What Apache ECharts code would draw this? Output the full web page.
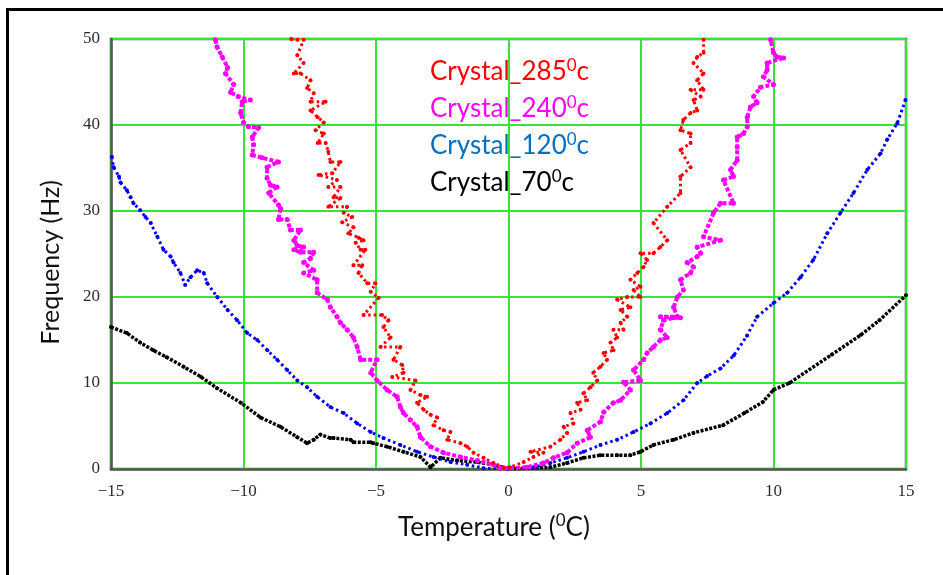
<!DOCTYPE html>
<html>
<head>
<meta charset="utf-8">
<script src="https://cdn.jsdelivr.net/npm/echarts@6/dist/echarts.min.js"></script>
<style>html,body{margin:0;padding:0;background:#fff}#c{width:943px;height:575px}</style>
</head>
<body>
<div id="c"></div>
<script>
// ---- data ----
const xTicks = [-15, -10, -5, 0, 5, 10, 15];
const yTicks = [0, 10, 20, 30, 40, 50];
const seriesNames = ['Crystal_285', 'Crystal_240', 'Crystal_120', 'Crystal_70'];
const legendDeg = ['285', '240', '120', '70'];

const crystal285 = [
  [-8.2,50],[-7.97,49.9],[-7.73,49.9],[-7.97,48.1],[-7.73,47.2],[-8.1,46],[-7.85,46],[-7.47,45.2],[-7.6,44.3],
  [-7.35,43.7],[-7.47,42.7],[-6.9,42.7],[-7.47,41.7],[-7.2,40.9],[-6.97,40.3],[-7.28,39.4],[-6.97,39],[-7.2,37.9],
  [-6.9,37.9],[-6.8,36.9],[-6.72,35.7],[-6.34,35.7],[-7.17,34.2],[-6.65,34.4],[-6.47,33.6],[-6.8,32.8],[-6.34,32.8],
  [-6.6,31.6],[-6.34,31.5],[-6.8,30.5],[-6.09,30.5],[-6.22,29.8],[-5.9,29.3],[-6.28,28.7],[-5.85,28.1],[-6.04,27.4],
  [-5.66,26.9],[-5.47,26.6],[-5.77,26.3],[-5.58,25.5],[-5.4,25.5],[-5.85,23.7],[-5.52,23.7],[-5.66,22.8],[-5.33,21.6],
  [-5.02,21.6],[-5.2,20.6],[-4.9,19.9],[-5.47,17.9],[-4.77,17.9],[-4.53,17.3],[-4.72,16.5],[-4.45,15.3],[-4.83,14.2],
  [-4.08,14.2],[-4.34,12.7],[-4.01,12.1],[-4.39,10.7],[-3.96,11.2],[-3.51,10.3],[-3.7,9.2],[-3.32,8.6],[-3.07,8.4],
  [-3.45,7.7],[-3.2,6.9],[-2.94,6.3],[-2.69,6],[-2.83,5.1],[-2.45,4.5],[-2.19,4.3],[-2.31,3.4],[-1.81,3],[-1.56,2.6],
  [-1.32,1.9],[-0.94,1.3],[-0.57,0.7],[-0.19,0.2],
  [0.05,0.2],[0.57,0.8],[0.94,1.4],[0.83,2],[1.32,1.9],[1.58,2.6],[1.96,3.4],[2.21,4.2],[2.08,4.9],[2.45,5.3],
  [2.34,6.5],[2.72,6.9],[2.59,7.7],[2.97,8],[2.83,8.8],[3.09,9.5],[3.35,10.3],[3.2,11.2],[3.47,11.9],[3.72,12.7],
  [3.59,13.5],[3.96,13.8],[3.85,14.7],[4.1,15.3],[3.96,16.2],[4.34,16.2],[4.23,17],[4.48,17.7],[4.23,18.5],[4.6,18.8],
  [4.1,19.7],[4.48,20],[4.98,20],[4.72,20.8],[4.98,21.2],[4.6,22],[4.86,22.8],[5.1,23.5],[5.23,24.3],[4.98,25.1],
  [5.47,25.1],[5.73,25.8],[5.99,26.6],[5.47,28.6],[5.99,30.5],[6.49,32.1],[6.49,34],[6.87,35.1],[6.49,37.1],[6.87,37.9],
  [6.49,39.4],[6.87,39],[6.6,40.6],[6.87,41.4],[7.12,41.7],[6.98,42.9],[7.25,43.3],[6.87,44.1],[7.36,44.1],[7.12,45.2],
  [7.36,46],[6.98,47.2],[7.12,47.9],[7.36,48.4],[7.36,49.9]
];

const crystal240 = [
  [-11.06,49.9],[-11,49.1],[-10.8,47.9],[-10.6,46.7],[-10.68,46],[-10.37,44.7],[-10.49,43.8],[-10.2,43.3],[-10.05,42.7],
  [-9.74,42.9],[-10.11,41.4],[-10,40.3],[-9.81,39.8],[-9.43,39.7],[-9.67,38.6],[-9.62,37.7],[-9.67,36.5],[-9.3,36.2],
  [-9.11,35.1],[-8.68,35.7],[-9.11,33.8],[-8.98,33],[-8.73,32.8],[-9.05,32.1],[-8.68,30.7],[-8.6,30.3],[-8.68,29],
  [-8.35,29],[-8.23,27.8],[-7.85,27.8],[-8.1,26.6],[-7.97,26],[-7.73,25.8],[-7.85,25.2],[-7.35,25.2],[-7.47,24.5],
  [-8.1,25.5],[-7.73,24],[-7.35,23.1],[-7.73,22.8],[-7.22,22],[-7.22,20.5],[-6.84,19.7],[-6.72,18.8],[-6.47,17.7],
  [-6.34,17],[-6.09,16.2],[-5.85,15.3],[-5.71,14.2],[-5.58,12.7],[-4.96,12.7],[-5.2,11.2],[-4.96,10.3],[-4.58,9.2],
  [-4.2,8.4],[-4.08,7.2],[-3.96,6.5],[-3.7,5.7],[-3.45,4.9],[-3.32,3.7],[-2.94,2.6],[-2.45,1.9],[-1.81,1.4],[-1.18,1],
  [-0.57,0.5],[-0.3,0.1],
  [0.08,0.1],[0.7,0.2],[1.32,0.7],[1.7,1.3],[2.21,1.9],[2.59,3],[3.09,3.7],[2.97,4.5],[3.47,5.5],[3.59,6.6],[3.96,7.7],
  [4.23,8],[4.6,9.2],[4.34,10.1],[4.98,10.3],[4.72,11.5],[5.1,12.7],[5.23,13.5],[5.47,14.2],[5.73,15],[5.99,15.3],
  [5.73,16.2],[5.85,17.3],[6.23,17.6],[6.49,17.6],[5.73,17.7],[6.37,17.7],[6.23,18.8],[6.37,20],[6.6,20.8],[6.49,22],
  [6.87,22.8],[6.98,23.5],[6.74,24],[7.12,24.7],[7.25,25.1],[7.12,25.8],[8,26.6],[7.36,27],[7.74,29.8],[8,30.9],
  [8.49,30.9],[8.11,33.6],[8.49,34],[8.38,34.8],[8.63,35.9],[8.63,37.4],[8.63,38.6],[8.87,39],[9.01,39.8],[9.01,40.9],
  [9.13,42.1],[9.38,42.6],[9.25,43.3],[9.51,44.4],[10,44.7],[9.62,45.6],[9.76,46.4],[9.76,47.2],[10.14,47.9],[10.38,47.8],
  [10,48.4],[9.89,49.9]
];

const crystal120 = [
  [-14.97,36.3],[-14.9,35.1],[-14.7,34],[-14.64,33.3],[-14.4,32.4],[-14.26,31.6],[-14.15,30.9],[-13.9,30.1],[-13.7,29.3],
  [-13.5,28.6],[-13.25,27],[-13.02,25.5],[-12.75,24.7],[-12.64,24],[-12.38,22.8],[-12.2,21.4],[-12,22.3],[-11.75,23.1],
  [-11.5,22.8],[-11.37,21.6],[-10.99,20],[-10.6,18.5],[-10.24,17.3],[-9.86,15.8],[-9.48,15],[-9.1,13.8],[-8.73,12.7],
  [-8.35,11.5],[-7.97,10.3],[-7.6,9.5],[-7.22,8.4],[-6.72,7.2],[-6.22,6.5],[-5.71,5.3],[-5.2,4.3],[-4.72,3.6],
  [-4.08,2.8],[-3.45,2],[-2.83,1.4],[-2.19,0.8],[-1.56,0.5],[-0.94,0.1],[0,0],
  [0.94,0.2],[1.58,0.7],[2.21,1.3],[2.83,2],[3.47,2.8],[4.1,3.4],[4.72,4.3],[5.36,5.3],[5.99,6.5],[6.6,8],[7.12,10],
  [7.5,10.8],[8,11.7],[8.5,13.2],[9,15.5],[9.38,17.7],[10,19.3],[10.52,20.5],[11.02,22.3],[11.5,24.3],[12.03,27.4],
  [12.53,29.8],[13.02,32.1],[13.54,34.8],[14.04,36.7],[14.29,38.3],[14.67,40.2],[14.98,42.9]
];

const crystal70 = [
  [-15,16.5],[-14.4,15.8],[-13.9,14.7],[-13.4,13.8],[-12.9,13],[-12.26,11.9],[-11.6,10.7],[-11,9.4],[-10.1,7.7],
  [-9.36,6],[-8.6,4.9],[-7.97,3.7],[-7.6,3],[-7.35,3.4],[-7.1,4],[-6.72,3.6],[-6.6,3.6],[-5.96,3.4],[-5.85,3.1],
  [-5.2,3.1],[-5.1,3],[-4.58,2.6],[-3.96,2],[-3.32,1.4],[-2.94,0.2],[-2.57,1.3],[-1.94,1],[-1.18,0.8],[-0.57,0.5],[0,0],
  [1.58,0.2],[2.21,0.7],[2.83,1.3],[3.47,1.6],[4.1,1.6],[4.6,1.6],[4.98,2],[5.47,2.8],[6.23,3.4],[6.98,4.2],
  [8.1,5.1],[8.9,6.5],[9.6,7.8],[10,9.2],[10.6,10],[12.2,13.3],[13.3,15.6],[14,17.3],[15,20.2]
];

// ---- chart ----
const colors = ['#ff0000', '#ff00ff', '#0000f0', '#000000'];
const legendColors = ['#ff0000', '#ff00ff', '#0070c0', '#000000'];
const gridGreen = '#33e633';
const frameGray = '#555555';
const dash = [[2.5, 3], [4, 2], [2.5, 3], [3, 1.5]];
const widths = [3, 4, 3, 3.5];

// steep clouds: order each branch by height (left: top -> bottom, right: bottom -> top)
function byHeight(pts) {
  const L = pts.filter(p => p[0] < 0).sort((a, b) => b[1] - a[1]);
  const R = pts.filter(p => p[0] >= 0).sort((a, b) => a[1] - b[1]);
  return L.concat(R);
}
const ordered = [byHeight(crystal285), byHeight(crystal240), crystal120, crystal70];

const chart = echarts.init(document.getElementById('c'), null, {renderer: 'canvas'});
function fmtNum(v) { return v < 0 ? '\u2212' + Math.abs(v) : String(v); }

const legendGraphics = legendDeg.map((d, i) => ({
  type: 'text', left: 430, top: 57 + i * 37,
  style: {
    text: '{a|Crystal_' + d + '}{s|0}{a|c}',
    rich: {
      a: {fontFamily: 'Lato', fontSize: 26, fill: legendColors[i], color: legendColors[i], lineHeight: 30},
      s: {fontFamily: 'Lato', fontSize: 17, fill: legendColors[i], color: legendColors[i], lineHeight: 30, verticalAlign: 'top', padding: [0,0,9,0]}
    }
  }
}));

const option = {
  animation: false,
  backgroundColor: '#ffffff',
  grid: {left: 111, right: 37, top: 39, bottom: 106, show: true, borderColor: frameGray, borderWidth: 2.5, backgroundColor: 'transparent'},
  xAxis: {
    type: 'value', min: -15, max: 15, interval: 5,
    axisLine: {show: true, onZero: false, lineStyle: {color: frameGray, width: 2.5}},
    axisTick: {show: false},
    splitLine: {show: true, lineStyle: {color: gridGreen, width: 2}},
    axisLabel: {fontFamily: 'Liberation Serif', fontSize: 17, color: '#2b2b33', margin: 14, formatter: fmtNum, showMinLabel: true, showMaxLabel: true}
  },
  yAxis: {
    type: 'value', min: 0, max: 50, interval: 10,
    axisLine: {show: true, onZero: false, lineStyle: {color: frameGray, width: 2.5}},
    axisTick: {show: false},
    splitLine: {show: true, lineStyle: {color: gridGreen, width: 2}},
    axisLabel: {fontFamily: 'Liberation Serif', fontSize: 17, color: '#2b2b33', margin: 11, formatter: fmtNum}
  },
  series: ordered.map((d, i) => ({
    name: seriesNames[i], type: 'line', data: d,
    symbol: 'circle', symbolSize: i === 1 ? 5 : 4, showSymbol: true,
    itemStyle: {color: colors[i]},
    lineStyle: {color: colors[i], width: widths[i], type: dash[i]},
    clip: true,
    z: 5 - i
  })),
  graphic: [
    {type: 'rect', left: 5, top: 7, shape: {width: 1000, height: 700}, style: {fill: 'none', stroke: '#000', lineWidth: 3}, z: 100},
    {type: 'text', left: 398, top: 512, style: {
      text: '{a|Temperature (}{s|0}{a|C)}',
      rich: {
        a: {fontFamily: 'Lato', fontSize: 26, fill: '#111', color: '#111', lineHeight: 32},
        s: {fontFamily: 'Lato', fontSize: 17, fill: '#111', color: '#111', lineHeight: 32, verticalAlign: 'top', padding: [0,0,9,0]}
      }}},
    {type: 'text', left: 38, top: 180, rotation: Math.PI / 2, originX: 0, originY: 0,
      style: {text: 'Frequency (Hz)', fontFamily: 'Lato', fontSize: 25, fill: '#111'}}
  ].concat(legendGraphics)
};
chart.setOption(option);
</script>
</body>
</html>
